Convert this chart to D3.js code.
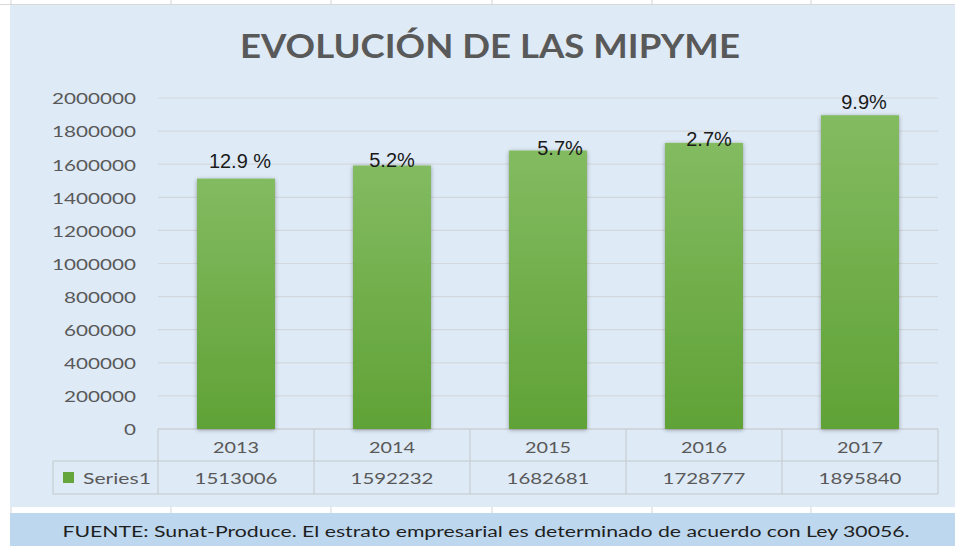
<!DOCTYPE html>
<html><head><meta charset="utf-8">
<script src="https://cdn.jsdelivr.net/npm/d3@7"></script>
<style>html,body{margin:0;padding:0;background:#fff;} svg{display:block;}</style>
</head><body><svg id="chart" width="955" height="546"></svg>
<script>
// ---------- data ----------
const chartTitle = "EVOLUCIÓN DE LAS MIPYME";
const years = ["2013", "2014", "2015", "2016", "2017"];
const values = [1513006, 1592232, 1682681, 1728777, 1895840];
const growthLabels = ["12.9 %", "5.2%", "5.7%", "2.7%", "9.9%"];
const yTicks = [0, 200000, 400000, 600000, 800000, 1000000, 1200000, 1400000, 1600000, 1800000, 2000000];
const seriesName = "Series1";
const sourceText = "FUENTE: Sunat-Produce. El estrato empresarial es determinado de acuerdo con Ley 30056.";

// ---------- layout ----------
const W = 955, H = 546;
const plot = { left: 158, right: 938, top: 98, bottom: 429 };
const rowH = [32, 33];
const legendLeft = 53;
const labelNudge = [[4, -11], [0, 1.5], [12, 4.5], [5, 3], [4, -6]];
const FONT = "Lato, 'Open Sans', sans-serif";
const GREY = "#595959";

const svg = d3.select("#chart");
const defs = svg.append("defs");
const grad = defs.append("linearGradient").attr("id", "barGrad").attr("x1", 0).attr("y1", 0).attr("x2", 0).attr("y2", 1);
grad.append("stop").attr("offset", "0%").attr("stop-color", "#83bb61");
grad.append("stop").attr("offset", "100%").attr("stop-color", "#60a236");
const f = defs.append("filter").attr("id", "shadow").attr("x", "-20%").attr("y", "-10%").attr("width", "140%").attr("height", "120%");
f.append("feDropShadow").attr("dx", 0).attr("dy", 1).attr("stdDeviation", 2).attr("flood-color", "#000").attr("flood-opacity", 0.35);

function measure(str, size, weight, family) {
  const t = svg.append("text").attr("font-family", family || FONT).attr("font-size", size)
    .attr("font-weight", weight || 400).text(str);
  const w = t.node().getComputedTextLength();
  t.remove();
  return w;
}
function stext(parent, str, x, y, o) {
  return parent.append("text")
    .attr("transform", `translate(${x},${y}) scale(${o.sx || 1},1)`)
    .attr("text-anchor", o.anchor || "middle")
    .attr("font-family", o.family || FONT)
    .attr("font-size", o.size)
    .attr("font-weight", o.weight || 400)
    .attr("fill", o.fill || GREY)
    .text(str);
}

// white page with faint table lines
svg.append("rect").attr("width", W).attr("height", H).attr("fill", "#fff");
svg.append("line").attr("x1", 0).attr("x2", W).attr("y1", 4.5).attr("y2", 4.5).attr("stroke", "#d9d9d9");
[11, 171, 331, 492, 652, 811].forEach(xv => {
  svg.append("line").attr("x1", xv).attr("x2", xv).attr("y1", 0).attr("y2", 5).attr("stroke", "#d4d4d4");
  svg.append("line").attr("x1", xv).attr("x2", xv).attr("y1", 506).attr("y2", 513).attr("stroke", "#d4d4d4");
});

// chart area background
svg.append("rect").attr("x", 10).attr("y", 5).attr("width", W - 10).attr("height", 502).attr("fill", "#deeaf6");
// footer band
svg.append("rect").attr("x", 10).attr("y", 513).attr("width", W - 10).attr("height", H - 513).attr("fill", "#bdd7ee");

// scales
const x = d3.scaleBand().domain(years).range([plot.left, plot.right]).paddingInner(0.5).paddingOuter(0.25);
const y = d3.scaleLinear().domain([0, 2000000]).range([plot.bottom, plot.top]);

// gridlines
svg.append("g").selectAll("line").data(yTicks).join("line")
  .attr("x1", plot.left).attr("x2", plot.right)
  .attr("y1", d => y(d)).attr("y2", d => y(d))
  .attr("stroke", "#d3d8dd").attr("stroke-width", 1.2);

// data table lines
const tbl = svg.append("g").attr("stroke", "#cbd2d9").attr("stroke-width", 1.5);
const row1 = plot.bottom + rowH[0], row2 = row1 + rowH[1];
tbl.append("line").attr("x1", plot.left).attr("x2", plot.right).attr("y1", plot.bottom).attr("y2", plot.bottom);
tbl.append("line").attr("x1", legendLeft).attr("x2", plot.right).attr("y1", row1).attr("y2", row1);
tbl.append("line").attr("x1", legendLeft).attr("x2", plot.right).attr("y1", row2).attr("y2", row2);
tbl.append("line").attr("x1", legendLeft).attr("x2", legendLeft).attr("y1", row1).attr("y2", row2);
const step = x.step();
d3.range(years.length + 1).forEach(i => {
  const xv = plot.left + i * step;
  tbl.append("line").attr("x1", xv).attr("x2", xv).attr("y1", plot.bottom).attr("y2", row2);
});

// bars
svg.append("g").selectAll("rect").data(years).join("rect")
  .attr("x", d => x(d)).attr("width", x.bandwidth())
  .attr("y", (d, i) => y(values[i])).attr("height", (d, i) => y(0) - y(values[i]))
  .attr("fill", "url(#barGrad)").attr("filter", "url(#shadow)");

// y axis labels
const tickSx = 84 / measure("2000000", 16);
const yAxis = svg.append("g").attr("transform", `translate(${plot.left},0)`)
  .call(d3.axisLeft(y).tickValues(yTicks).tickSize(0).tickFormat(d => String(d)));
yAxis.select(".domain").remove();
yAxis.selectAll("text")
  .attr("x", null).attr("dy", null)
  .attr("transform", `translate(-22,5.8) scale(${tickSx},1)`)
  .attr("text-anchor", "end")
  .attr("font-family", FONT).attr("font-size", 16).attr("fill", GREY);

// growth labels
years.forEach((yr, i) => {
  stext(svg, growthLabels[i], x(yr) + x.bandwidth() / 2 + labelNudge[i][0], y(values[i]) + labelNudge[i][1],
    { size: 20, family: "'Liberation Sans', Arial, sans-serif", fill: "#1a1a1a" });
});

// table text
const yearSx = 46 / measure("2013", 15);
const valSx = 83 / measure("1513006", 15);
years.forEach((yr, i) => {
  const cx = x(yr) + x.bandwidth() / 2;
  stext(svg, yr, cx, plot.bottom + 24, { size: 15, sx: yearSx });
  stext(svg, String(values[i]), cx, row1 + 23, { size: 15, sx: valSx });
});
svg.append("rect").attr("x", 63).attr("y", 472).attr("width", 11).attr("height", 11).attr("fill", "#64a63b");
const serSx = 68 / measure(seriesName, 15);
stext(svg, seriesName, 83, row1 + 23, { size: 15, sx: serSx, anchor: "start" });

// title
const titleSx = 500 / measure(chartTitle, 32, 700);
stext(svg, chartTitle, 490, 58, { size: 32, weight: 700, sx: titleSx });

// footer
const srcSx = 848 / measure(sourceText, 15.5);
stext(svg, sourceText, 486, 537, { size: 15.5, sx: srcSx, fill: "#1f1f1f" });
</script></body></html>
